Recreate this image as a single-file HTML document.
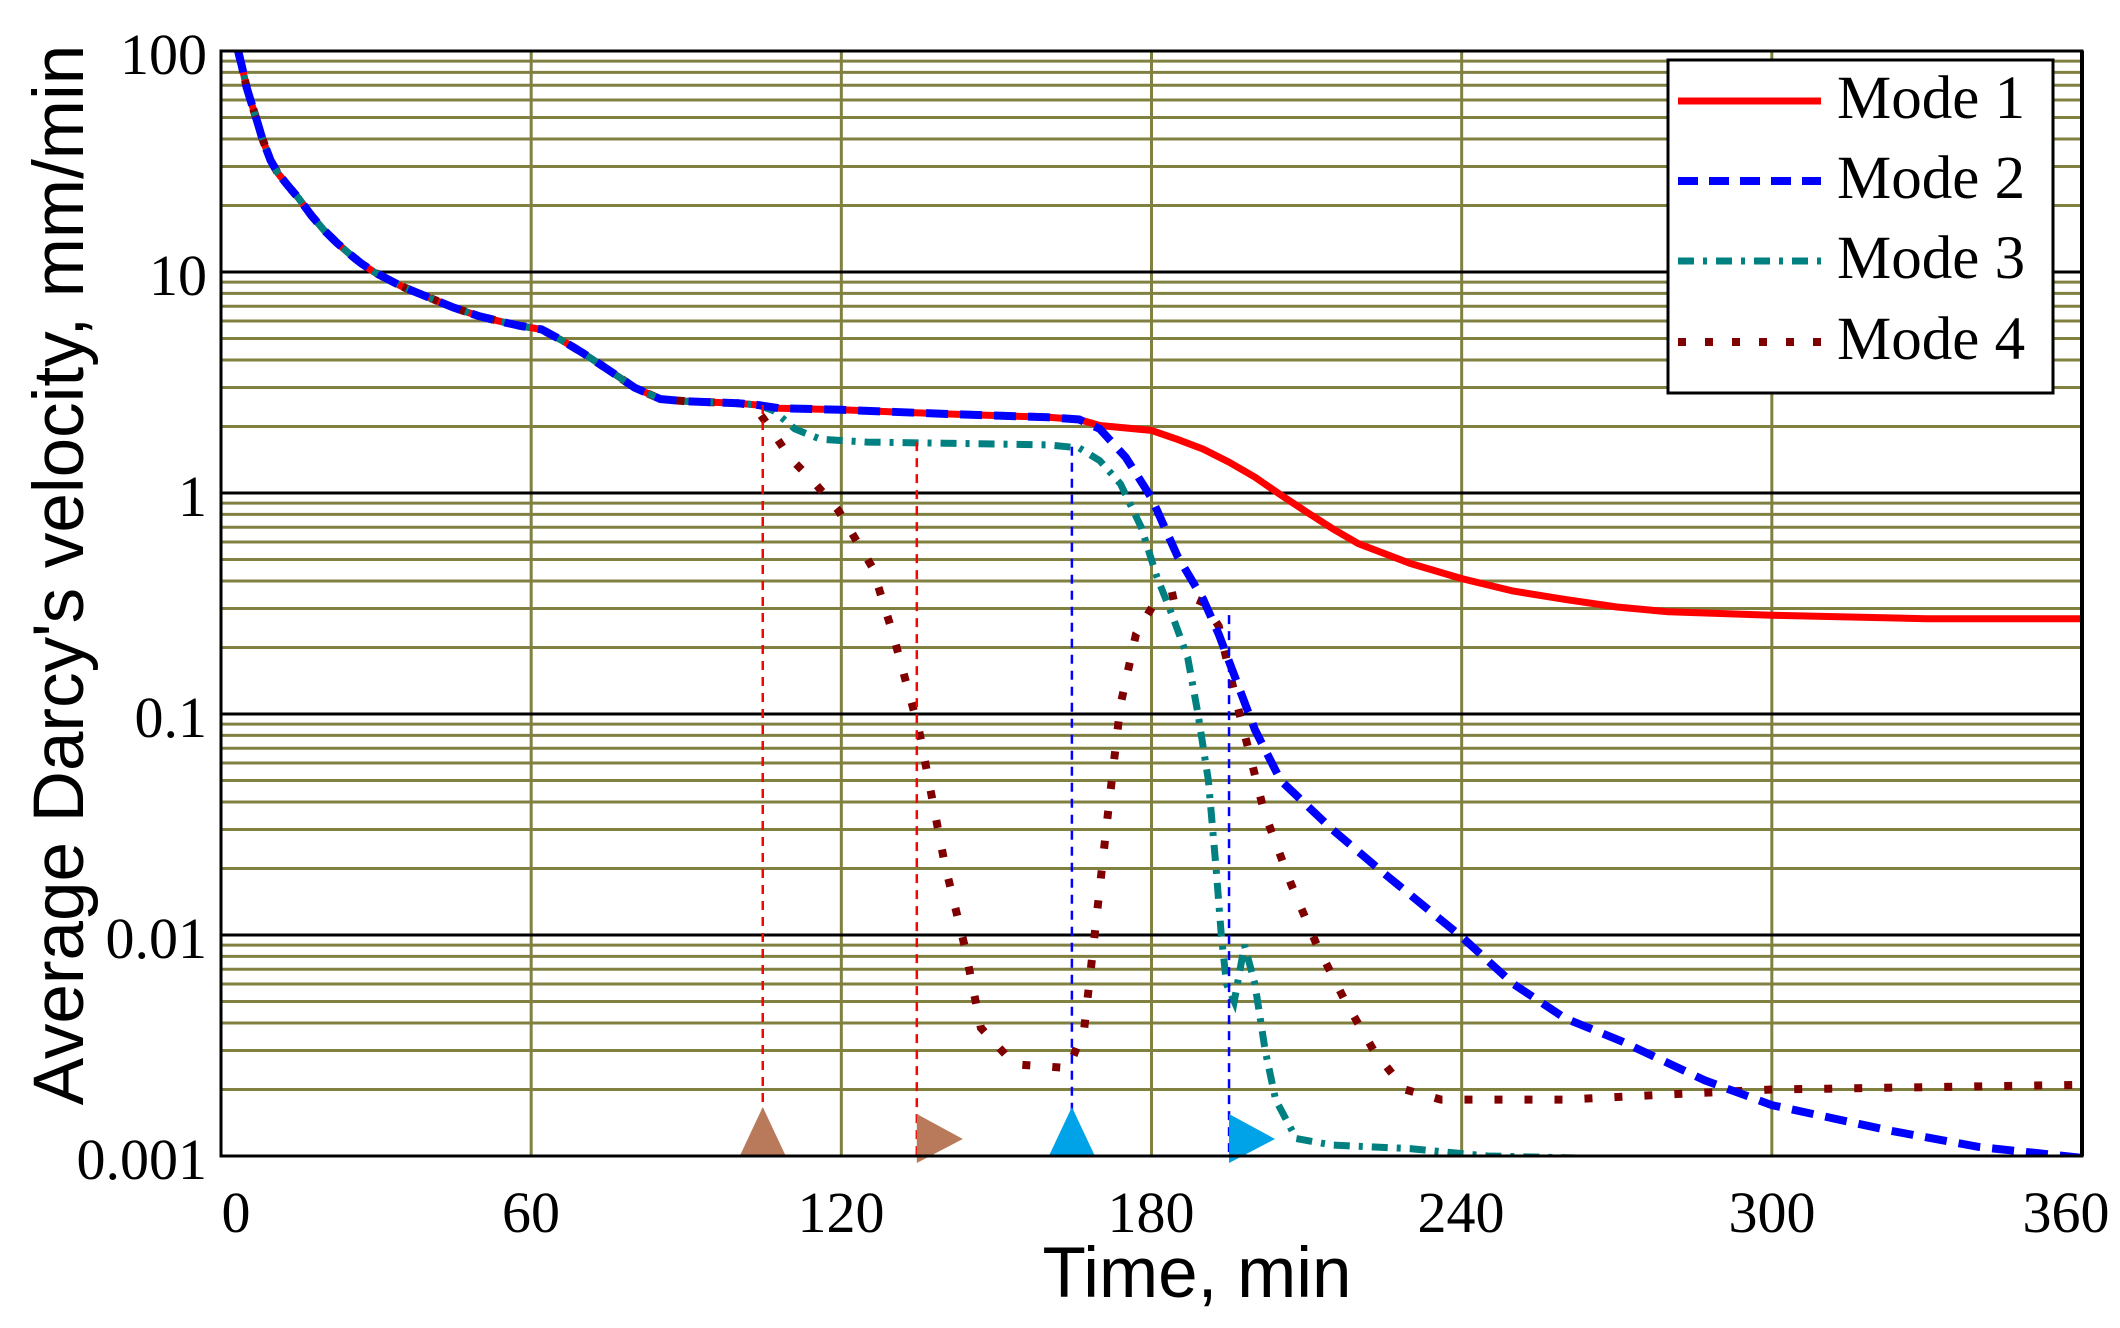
<!DOCTYPE html>
<html><head><meta charset="utf-8">
<style>
html,body{margin:0;padding:0;background:#fff;}
svg{display:block;}
</style></head>
<body>
<svg id="s" width="2120" height="1328" viewBox="0 0 2120 1328" xmlns="http://www.w3.org/2000/svg">
<defs><clipPath id="cp"><rect x="221" y="51" width="1861" height="1105"/></clipPath></defs>
<g id="grid"></g>
<g id="curves" clip-path="url(#cp)"></g>
<g id="marks"></g>
<rect x="221" y="51" width="1861" height="1105" fill="none" stroke="#000" stroke-width="3"/>
<line x1="2082" y1="51" x2="2082" y2="1156" stroke="#000" stroke-width="4"/>
<g font-family="Liberation Serif, serif" font-size="58" fill="#000" text-anchor="end">
<text x="207" y="74">100</text>
<text x="207" y="295">10</text>
<text x="207" y="516">1</text>
<text x="207" y="737">0.1</text>
<text x="207" y="958">0.01</text>
<text x="207" y="1179">0.001</text>
</g>
<g font-family="Liberation Serif, serif" font-size="58" fill="#000" text-anchor="middle">
<text x="236" y="1232">0</text>
<text x="531" y="1232">60</text>
<text x="841" y="1232">120</text>
<text x="1151" y="1232">180</text>
<text x="1461" y="1232">240</text>
<text x="1772" y="1232">300</text>
<text x="2066" y="1232">360</text>
</g>
<text x="1197" y="1297" font-family="Liberation Sans, sans-serif" font-size="71" text-anchor="middle">Time, min</text>
<text transform="translate(83,575) rotate(-90)" font-family="Liberation Sans, sans-serif" font-size="71" text-anchor="middle">Average Darcy's velocity, mm/min</text>
<g id="legend">
<rect x="1668" y="60" width="385" height="333" fill="#fff" stroke="#000" stroke-width="3"/>
<line x1="1678" y1="101" x2="1821" y2="101" stroke="#f00" stroke-width="7"/>
<line x1="1678" y1="181" x2="1821" y2="181" stroke="#00f" stroke-width="8" stroke-dasharray="20 11"/>
<line x1="1678" y1="261" x2="1821" y2="261" stroke="#008080" stroke-width="7" stroke-dasharray="16 9 4 9"/>
<line x1="1678" y1="342" x2="1821" y2="342" stroke="#800000" stroke-width="8" stroke-dasharray="8 19"/>
<g font-family="Liberation Serif, serif" font-size="61" fill="#000">
<text x="1837" y="118">Mode 1</text>
<text x="1837" y="198">Mode 2</text>
<text x="1837" y="278">Mode 3</text>
<text x="1837" y="359">Mode 4</text>
</g>
</g>
</svg>
<script>
var NS="http://www.w3.org/2000/svg";
function X(t){return 221+t*1861/360;}
function Y(v){return 51+(2-Math.log10(v))*221;}
function el(p,tag,a){var e=document.createElementNS(NS,tag);for(var k in a)e.setAttribute(k,a[k]);p.appendChild(e);return e;}
var g=document.getElementById('grid');
for(var d=0;d<5;d++){for(var m=2;m<=9;m++){var v=Math.pow(10,-3+d)*m;el(g,'line',{x1:221,x2:2082,y1:Y(v),y2:Y(v),stroke:'#808040','stroke-width':3});}}
for(var t=60;t<=300;t+=60)el(g,'line',{x1:X(t),x2:X(t),y1:51,y2:1156,stroke:'#808040','stroke-width':3});
for(var d=-2;d<=1;d++)el(g,'line',{x1:221,x2:2082,y1:Y(Math.pow(10,d)),y2:Y(Math.pow(10,d)),stroke:'#000','stroke-width':3});
var common=[[3.3,100],[4,86],[5,68],[6,57],[7,48],[8,40],[9.6,32],[11,28],[13,24.5],[15,21.6],[17.5,18],[20,15.4],[22.5,13.5],[25,12],[27,11],[29.6,10],[35,8.6],[40,7.7],[45,6.9],[50,6.3],[55,5.9],[58,5.7],[62,5.5],[66,4.9],[70,4.3],[75,3.6],[80,3.0],[85,2.66],[90,2.6],[100,2.55],[104,2.5]];
var tailA=[[108,2.42],[120,2.38],[140,2.28],[160,2.2],[166,2.15]];
var m1=common.concat(tailA,[[170,2.02],[180,1.92],[185,1.75],[190,1.58],[195,1.38],[200,1.18],[205,0.98],[210,0.82],[215,0.69],[220,0.59],[230,0.48],[240,0.41],[250,0.36],[260,0.33],[270,0.305],[280,0.29],[300,0.28],[330,0.27],[360,0.27]]);
var m2=common.concat(tailA,[[170,1.95],[175,1.45],[180,0.95],[185,0.52],[190,0.33],[193,0.23],[197,0.13],[200,0.085],[205,0.05],[215,0.03],[225,0.019],[240,0.0098],[250,0.006],[260,0.0042],[271,0.0033],[287,0.0022],[300,0.0017],[323,0.0013],[340,0.0011],[360,0.00098]]);
var m3=common.concat([[107,2.35],[111,1.95],[116,1.75],[125,1.7],[140,1.68],[160,1.65],[166,1.6],[170,1.4],[174,1.1],[178,0.7],[181,0.42],[184,0.28],[187,0.18],[189,0.1],[191,0.05],[192.5,0.02],[193.5,0.01],[194.5,0.006],[196,0.005],[198,0.009],[200,0.006],[202,0.003],[204,0.0018],[208,0.0012],[215,0.00112],[230,0.00108],[245,0.001],[270,0.00097]]);
var m4=common.slice(0,-1).concat([[103,2.5],[106,2.0],[110,1.45],[115,1.1],[119.5,0.83],[126,0.46],[130,0.23],[135,0.085],[140,0.021],[143.8,0.009],[147,0.0038],[153.5,0.0026],[164,0.0025],[167,0.0038],[169,0.01],[171.6,0.036],[174,0.11],[177,0.23],[181,0.33],[186,0.35],[190,0.32],[193,0.25],[196.6,0.11],[201.8,0.036],[207,0.017],[212,0.009],[217.5,0.005],[223,0.003],[229,0.002],[236,0.0018],[260,0.0018],[280,0.0019],[300,0.002],[360,0.0021]]);
function path(pts){return pts.map(function(p,i){return (i?'L':'M')+X(p[0]).toFixed(1)+' '+Y(p[1]).toFixed(1);}).join(' ');}
var c=document.getElementById('curves');
el(c,'path',{d:path(m1),fill:'none',stroke:'#f00','stroke-width':7,'stroke-linejoin':'round'});
el(c,'path',{d:path(m4),fill:'none',stroke:'#800000','stroke-width':8,'stroke-dasharray':'8 22'});
el(c,'path',{d:path(m3),fill:'none',stroke:'#008080','stroke-width':7,'stroke-dasharray':'16 9 4 9'});
el(c,'path',{d:path(m2),fill:'none',stroke:'#00f','stroke-width':8,'stroke-dasharray':'22 12'});
var mk=document.getElementById('marks');
el(mk,'line',{x1:X(104.8),x2:X(104.8),y1:Y(2.5),y2:1156,stroke:'#f00','stroke-width':2.5,'stroke-dasharray':'9 7'});
el(mk,'line',{x1:X(134.6),x2:X(134.6),y1:Y(1.7),y2:1156,stroke:'#f00','stroke-width':2.5,'stroke-dasharray':'9 7'});
el(mk,'line',{x1:X(164.6),x2:X(164.6),y1:Y(1.62),y2:1156,stroke:'#00f','stroke-width':2.5,'stroke-dasharray':'9 7'});
el(mk,'line',{x1:X(195),x2:X(195),y1:Y(0.28),y2:1156,stroke:'#00f','stroke-width':2.5,'stroke-dasharray':'9 7'});
function up(x,col){el(mk,'polygon',{points:(x-23)+',1156 '+(x+23)+',1156 '+x+',1107',fill:col});}
function rt(x,col){el(mk,'polygon',{points:x+',1114 '+x+',1163 '+(x+46)+',1139',fill:col});}
up(X(104.8),'#b87a5a');rt(X(134.6),'#b87a5a');up(X(164.6),'#00a2e8');rt(X(195),'#00a2e8');
</script>
</body></html>
